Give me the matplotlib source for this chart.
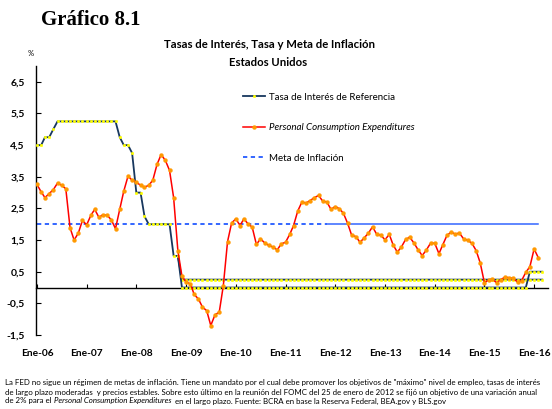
import pandas as pd
import numpy as np
import matplotlib
matplotlib.use("Agg")
import matplotlib.pyplot as plt

# monthly data, Jan-2006 onwards
pce = [
    3.26, 3.02, 2.84, 2.97, 3.09, 3.30, 3.23, 3.12, 1.89, 1.50, 1.72, 2.12,   # 2006
    1.98, 2.28, 2.47, 2.22, 2.30, 2.28, 2.14, 1.86, 2.47, 3.05, 3.52, 3.39,   # 2007
    3.33, 3.23, 3.17, 3.23, 3.39, 3.89, 4.20, 4.02, 3.70, 2.84, 1.17, 0.36,   # 2008
    0.17, 0.12, -0.22, -0.36, -0.62, -0.73, -1.20, -0.86, -0.78, 0.06, 1.45, 2.04,  # 2009
    2.17, 1.96, 2.17, 2.01, 1.91, 1.36, 1.54, 1.41, 1.33, 1.28, 1.19, 1.38,   # 2010
    1.43, 1.68, 1.96, 2.42, 2.70, 2.67, 2.75, 2.84, 2.91, 2.73, 2.70, 2.47,   # 2011
    2.56, 2.49, 2.35, 2.03, 1.65, 1.61, 1.43, 1.57, 1.72, 1.92, 1.68, 1.65,   # 2012
    1.51, 1.68, 1.35, 1.12, 1.28, 1.52, 1.59, 1.41, 1.19, 1.01, 1.19, 1.40,   # 2013
    1.40, 1.07, 1.35, 1.65, 1.75, 1.69, 1.72, 1.54, 1.49, 1.40, 1.17, 0.78,   # 2014
    0.15, 0.24, 0.26, 0.15, 0.25, 0.33, 0.31, 0.29, 0.17, 0.22, 0.48, 0.66,   # 2015
    1.22, 0.94,                                                               # 2016
]

tasa = (
    [4.5, 4.5, 4.75, 4.75, 5.0, 5.25] + [5.25] * 6                             # 2006
    + [5.25] * 8 + [4.75, 4.5, 4.5, 4.25]                                    # 2007
    + [3.0, 3.0, 2.25, 2.0, 2.0, 2.0, 2.0, 2.0, 2.0, 1.0, 1.0, 0.25]         # 2008
    + [0.25] * 84                                                            # 2009-2015
    + [0.25, 0.25, 0.25]                                                     # 2016
)
# second band of the target range (from Nov-2008)
tasa_b = [np.nan] * 34 + [1.0] + [0.0] * 84 + [0.5] * 4

meta = [2.0] * 122
meta_corte = 70   # dotted until late 2011, then solid (FOMC Jan-2012)

fechas = pd.date_range("2006-01-01", periods=123, freq="MS")
anios = pd.date_range("2006-01-01", "2016-01-01", freq="YS")
xlabels = ["Ene-%02d" % (a % 100) for a in range(2006, 2017)]
yticks = [6.5, 5.5, 4.5, 3.5, 2.5, 1.5, 0.5, -0.5, -1.5]

SANS = ["Lato", "DejaVu Sans"]
plt.rcParams["font.family"] = SANS

fig = plt.figure(figsize=(5.52, 4.09), dpi=100)
ax = fig.add_axes([36 / 552, 1 - 335 / 409, 512 / 552, 269 / 409])

navy = "#17375E"
ax.plot(fechas, tasa, color=navy, lw=1.3, marker="o", ms=1.9, mfc="#FFFF00",
        mec="#FFFF00", mew=0.3, zorder=3, label="Tasa de Interés de Referencia")
ax.plot(fechas, tasa_b, color=navy, lw=1.3, marker="o", ms=1.9, mfc="#FFFF00",
        mec="#FFFF00", mew=0.3, zorder=3)
ax.plot(fechas[:len(pce)], pce, color="#FF0000", lw=1.1, marker="o", ms=2.8,
        mfc="#FF9900", mec="#FF9900", mew=0.3, zorder=4,
        label="Personal Consumption Expenditures")
ax.plot(fechas[:meta_corte + 1], meta[:meta_corte + 1], color="#3366FF", lw=1.4,
        ls=(0, (2.2, 1.8)), zorder=2, label="Meta de Inflación")
ax.plot(fechas[meta_corte:len(meta)], meta[meta_corte:], color="#3366FF", lw=1.1,
        zorder=2)

ax.set_ylim(-1.5, 7.0)
ax.set_xlim(pd.Timestamp("2005-12-25"), pd.Timestamp("2016-04-12"))

for s in ["top", "right"]:
    ax.spines[s].set_visible(False)
ax.spines["bottom"].set_position(("data", 0))
ax.spines["bottom"].set_linewidth(1.0)
ax.spines["left"].set_linewidth(1.0)
ax.tick_params(axis="y", direction="in", length=3.5, width=0.8, pad=8)
ax.tick_params(axis="x", direction="in", length=3, width=0.8, pad=44, colors="black")

ax.set_yticks(yticks)
ax.set_yticklabels([("%.1f" % v).replace(".", ",") for v in yticks])
ax.set_xticks(anios)
ax.set_xticklabels(xlabels)
for t in ax.get_yticklabels():
    t.set_fontweight("bold")
    t.set_fontsize(7.5)
for t in ax.get_xticklabels():
    t.set_fontweight("bold")
    t.set_fontsize(7.3)

leg = ax.legend(loc="upper left", bbox_to_anchor=(238 / 552, 1 - 88 / 409),
                bbox_transform=fig.transFigure, frameon=False, fontsize=7.0,
                handlelength=2.3, handletextpad=0.35, labelspacing=2.2,
                borderpad=0, numpoints=1)
leg.get_texts()[1].set_style("italic")

fig.text(41 / 552, 1 - 20 / 409, "Gráfico 8.1", family="Liberation Serif",
         fontweight="bold", fontsize=15, va="center", ha="left")
fig.text(270 / 552, 1 - 45 / 409, "Tasas de Interés, Tasa y Meta de Inflación",
         fontweight="bold", fontsize=8.2, ha="center", va="center")
fig.text(268 / 552, 1 - 63 / 409, "Estados Unidos", fontweight="bold",
         fontsize=8.2, ha="center", va="center")
fig.text(31 / 552, 1 - 53 / 409, "%", fontsize=5.5, ha="center", va="center")

# footer
fs = 5.7
x0 = 5 / 552
fig.text(x0, 1 - 382 / 409, "La FED no sigue un régimen de metas de inflación. Tiene un mandato por el cual "
         "debe promover los objetivos de \"máximo\" nivel de empleo, tasas de interés",
         fontsize=fs, va="center")
fig.text(x0, 1 - 392 / 409, "de largo plazo moderadas  y precios estables. Sobre esto último en la reunión del "
         "FOMC del 25 de enero de 2012 se fijó un objetivo de una variación anual",
         fontsize=fs, va="center")
partes = [("de 2% para el ", "normal"), ("Personal Consumption Expenditures", "italic"),
          ("  en el largo plazo. Fuente: BCRA en base la Reserva Federal, BEA.gov y BLS.gov", "normal")]
fig.canvas.draw()
r = fig.canvas.get_renderer()
x = x0
for txt, st in partes:
    t = fig.text(x, 1 - 401 / 409, txt, fontsize=fs, style=st, va="center")
    bb = t.get_window_extent(renderer=r)
    x += bb.width / fig.bbox.width

fig.savefig("out.png", dpi=100)
